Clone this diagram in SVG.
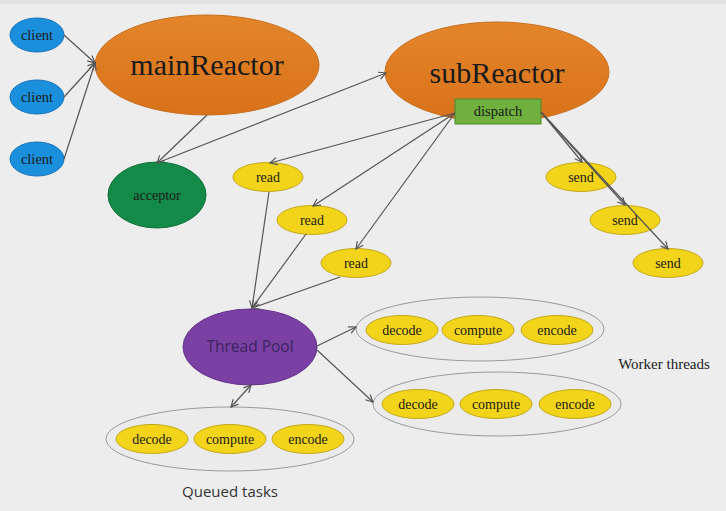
<svg xmlns="http://www.w3.org/2000/svg" width="726" height="511" viewBox="0 0 726 511">
<defs>
<marker id="arr" viewBox="0 0 10 10" refX="9" refY="5" markerWidth="9" markerHeight="9" markerUnits="userSpaceOnUse" orient="auto-start-reverse">
<path d="M1,1 L9,5 L1,9" fill="none" stroke="#555" stroke-width="1.3"/>
</marker>
<linearGradient id="og" x1="0" y1="0" x2="0" y2="1">
<stop offset="0" stop-color="#e4852a"/><stop offset="1" stop-color="#d8721a"/>
</linearGradient>
</defs>
<style>
.sv{font-family:"Liberation Serif","Times New Roman",serif;text-anchor:middle;fill:#1a1a1a}
.ss{font-family:"Open Sans","Liberation Sans",Arial,sans-serif;text-anchor:middle}
.client{fill:#1a8fdc;stroke:#1a74b8;stroke-width:1}
.yel{fill:#f2d41a;stroke:#c4a91c;stroke-width:1}
.grp{fill:#ebebeb;stroke:#9a9a9a;stroke-width:1}
.big{fill:url(#og);stroke:#c7701f;stroke-width:1}
.c line{stroke:#555;stroke-width:1.2;fill:none}
</style>
<rect x="0" y="0" width="726" height="511" fill="#ededed"/>
<rect x="0" y="0" width="726" height="4" fill="#e2e2e2"/>

<g id="client1"><ellipse class="client" cx="37" cy="35" rx="27" ry="17"/><text class="sv" x="37" y="40" font-size="14.5">client</text></g>
<g id="client2"><ellipse class="client" cx="37" cy="97" rx="27" ry="17"/><text class="sv" x="37" y="102" font-size="14.5">client</text></g>
<g id="client3"><ellipse class="client" cx="37" cy="159" rx="27" ry="17"/><text class="sv" x="37" y="164" font-size="14.5">client</text></g>

<g id="mainReactor"><ellipse class="big" cx="207" cy="65" rx="112" ry="50"/><text class="sv" x="207" y="75" font-size="30">mainReactor</text></g>
<g id="acceptor"><ellipse cx="157" cy="195" rx="49" ry="33" fill="#148a48" stroke="#0f7038"/><text class="sv" x="157" y="200" font-size="14">acceptor</text></g>
<g id="subReactor"><ellipse class="big" cx="497" cy="72" rx="112" ry="50"/><text class="sv" x="497" y="83" font-size="30">subReactor</text></g>
<g id="dispatch"><rect x="455" y="99" width="86" height="25" fill="#6fb03f" stroke="#4e8a2a"/><text class="sv" x="498" y="116" font-size="14.5">dispatch</text></g>

<g id="read1"><ellipse class="yel" cx="268" cy="177" rx="35" ry="14.5"/><text class="sv" x="268" y="182" font-size="14">read</text></g>
<g id="read2"><ellipse class="yel" cx="312" cy="220" rx="35" ry="14.5"/><text class="sv" x="312" y="225" font-size="14">read</text></g>
<g id="read3"><ellipse class="yel" cx="356" cy="263" rx="35" ry="14.5"/><text class="sv" x="356" y="268" font-size="14">read</text></g>

<g id="send1"><ellipse class="yel" cx="581" cy="177" rx="35" ry="14.5"/><text class="sv" x="581" y="182" font-size="14">send</text></g>
<g id="send2"><ellipse class="yel" cx="625" cy="220" rx="35" ry="14.5"/><text class="sv" x="625" y="225" font-size="14">send</text></g>
<g id="send3"><ellipse class="yel" cx="668" cy="263" rx="35" ry="14.5"/><text class="sv" x="668" y="268" font-size="14">send</text></g>

<g id="threadPool"><ellipse cx="250" cy="347" rx="67" ry="38" fill="#7a40a3" stroke="#62308a"/><text class="ss" x="250" y="352" font-size="15.5" fill="#3b2560">Thread Pool</text></g>

<g id="worker1"><ellipse class="grp" cx="480" cy="329" rx="124" ry="32"/>
<ellipse class="yel" cx="402" cy="330" rx="36" ry="14.5"/><text class="sv" x="402" y="335" font-size="14">decode</text>
<ellipse class="yel" cx="478" cy="330" rx="36" ry="14.5"/><text class="sv" x="478" y="335" font-size="14">compute</text>
<ellipse class="yel" cx="557" cy="330" rx="36" ry="14.5"/><text class="sv" x="557" y="335" font-size="14">encode</text></g>
<g id="worker2"><ellipse class="grp" cx="497" cy="404" rx="124" ry="32"/>
<ellipse class="yel" cx="418" cy="404" rx="36" ry="14.5"/><text class="sv" x="418" y="409" font-size="14">decode</text>
<ellipse class="yel" cx="496" cy="404" rx="36" ry="14.5"/><text class="sv" x="496" y="409" font-size="14">compute</text>
<ellipse class="yel" cx="575" cy="404" rx="36" ry="14.5"/><text class="sv" x="575" y="409" font-size="14">encode</text></g>
<g id="queued"><ellipse class="grp" cx="230" cy="439" rx="124" ry="32"/>
<ellipse class="yel" cx="152" cy="439" rx="36" ry="14.5"/><text class="sv" x="152" y="444" font-size="14">decode</text>
<ellipse class="yel" cx="230" cy="439" rx="36" ry="14.5"/><text class="sv" x="230" y="444" font-size="14">compute</text>
<ellipse class="yel" cx="308" cy="439" rx="36" ry="14.5"/><text class="sv" x="308" y="444" font-size="14">encode</text></g>

<g id="labels">
<text class="ss" x="230" y="497" font-size="15" fill="#333">Queued tasks</text>
<text class="sv" x="664" y="369" font-size="15" fill="#333">Worker threads</text>
</g>

<g id="connectors" class="c">
<line x1="64" y1="35" x2="95" y2="63" marker-end="url(#arr)"/>
<line x1="64" y1="97" x2="95" y2="63" marker-end="url(#arr)"/>
<line x1="64" y1="159" x2="95" y2="63" marker-end="url(#arr)"/>
<line x1="207" y1="115" x2="157" y2="163" marker-end="url(#arr)"/>
<line x1="157" y1="163" x2="386" y2="73" marker-end="url(#arr)"/>
<line x1="455" y1="113" x2="270" y2="163" marker-end="url(#arr)"/>
<line x1="455" y1="113" x2="313" y2="206" marker-end="url(#arr)"/>
<line x1="455" y1="113" x2="356" y2="249" marker-end="url(#arr)"/>
<line x1="541" y1="112" x2="582" y2="162" marker-end="url(#arr)"/>
<line x1="541" y1="112" x2="625" y2="205" marker-end="url(#arr)"/>
<line x1="541" y1="112" x2="668" y2="249" marker-end="url(#arr)"/>
<line x1="269" y1="192" x2="252" y2="308" marker-end="url(#arr)"/>
<line x1="306" y1="234" x2="252" y2="308" marker-end="url(#arr)"/>
<line x1="340" y1="277" x2="252" y2="308" marker-end="url(#arr)"/>
<line x1="317" y1="346" x2="356" y2="327" marker-end="url(#arr)"/>
<line x1="317" y1="350" x2="373" y2="402" marker-end="url(#arr)"/>
<line x1="231" y1="407" x2="251" y2="385" marker-start="url(#arr)" marker-end="url(#arr)"/>
</g>
</svg>
